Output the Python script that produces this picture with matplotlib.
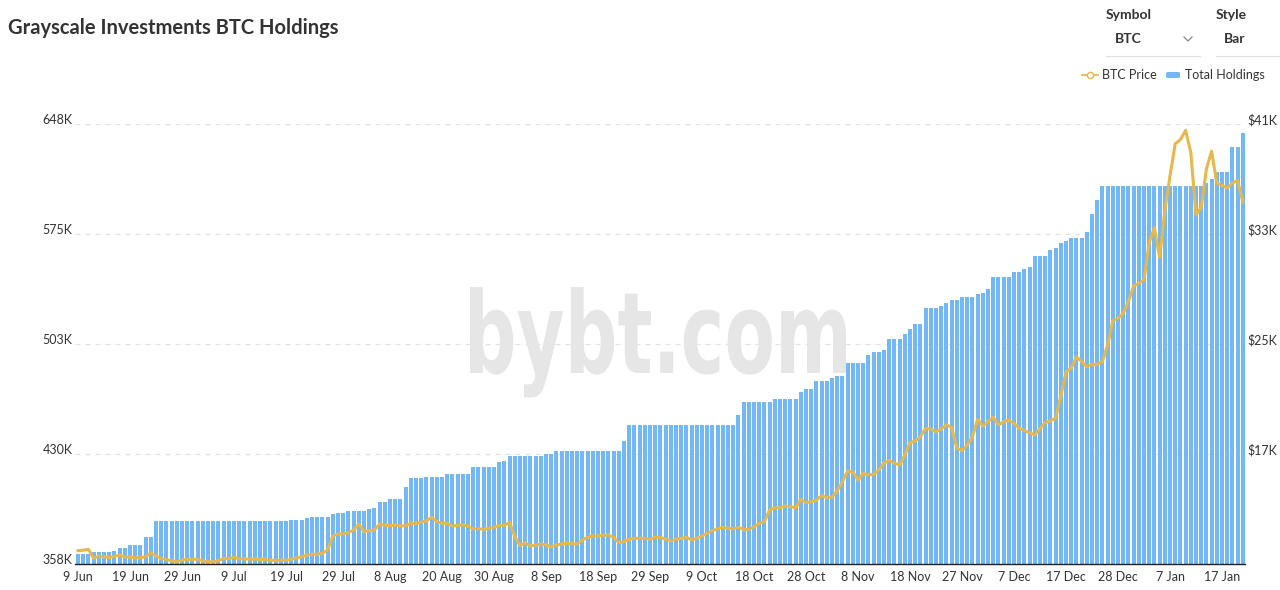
import matplotlib
matplotlib.use("Agg")
import matplotlib.pyplot as plt
from matplotlib.textpath import TextPath
from matplotlib.patches import PathPatch, FancyBboxPatch
from matplotlib.font_manager import FontProperties
from matplotlib.transforms import Affine2D, IdentityTransform
from matplotlib.lines import Line2D

# ---------------- data ----------------
tick_labels = ['9 Jun', '19 Jun', '29 Jun', '9 Jul', '19 Jul', '29 Jul', '8 Aug',
               '20 Aug', '30 Aug', '8 Sep', '18 Sep', '29 Sep', '9 Oct', '18 Oct',
               '28 Oct', '8 Nov', '18 Nov', '27 Nov', '7 Dec', '17 Dec', '28 Dec',
               '7 Jan', '17 Jan']

holdings = [
    364600, 364600, 364600, 365700, 365700, 365700, 365700, 366800, 368300, 368300,
    370500, 370500, 370500, 375600, 375600, 386500, 386500, 386500, 386500, 386500,
    386500, 386500, 386500, 386500, 386500, 386500, 386500, 386500, 386500, 386500,
    386500, 386500, 386500, 386500, 386500, 386500, 386500, 386500, 386500, 386500,
    386500, 386800, 387200, 387200, 388100, 389200, 389200, 389200, 389200, 390800,
    391800, 391800, 393100, 393100, 393100, 393100, 394000, 395100, 399100, 399100,
    400800, 400800, 400800, 408600, 414900, 414900, 414900, 415300, 415300, 415300,
    415300, 417100, 417100, 417100, 417100, 417100, 421900, 421900, 421900, 421900,
    421900, 425200, 426100, 429400, 429400, 429400, 429400, 429400, 429400, 429400,
    430700, 430700, 432300, 432300, 432300, 432300, 432300, 432300, 432300, 432300,
    432300, 432300, 432300, 432300, 432300, 439300, 449300, 449300, 449300, 449300,
    449300, 449300, 449300, 449300, 449300, 449300, 449300, 449300, 449300, 449300,
    449300, 449300, 449300, 449300, 449300, 449300, 449300, 456200, 464600, 464600,
    464600, 464600, 464600, 464600, 467000, 467000, 467000, 467000, 467000, 471600,
    473500, 473500, 478800, 478800, 478800, 480800, 482100, 482100, 490500, 490500,
    490500, 490500, 495700, 497900, 497900, 499000, 506300, 506300, 506300, 509400,
    512900, 516000, 516000, 526500, 526500, 526500, 528000, 529800, 532000, 532000,
    534200, 534200, 534200, 535800, 536400, 539300, 547000, 547000, 547000, 547000,
    550700, 550700, 552200, 553600, 561000, 561000, 561000, 565200, 566100, 569400,
    570900, 572700, 572700, 572700, 576600, 588900, 597700, 607100, 607100, 607100,
    607100, 607100, 607100, 607100, 607100, 607100, 607100, 607100, 607100, 607100,
    607100, 607100, 607100, 607100, 607100, 607100, 607100, 608900, 611700, 616600,
    616600, 616600, 633000, 633000, 641900,
]

btc_price = [
    9970, 10000, 10070, 9410, 9580, 9530, 9460, 9580, 9630, 9530,
    9490, 9460, 9460, 9530, 9820, 9580, 9390, 9340, 9220, 9170,
    9290, 9340, 9340, 9360, 9220, 9170, 9170, 9240, 9410, 9390,
    9490, 9390, 9360, 9360, 9360, 9340, 9340, 9290, 9240, 9290,
    9290, 9340, 9440, 9530, 9650, 9710, 9710, 9780, 10020, 11040,
    11180, 11180, 11280, 11470, 11910, 11350, 11420, 11470, 11910, 11840,
    11790, 11840, 11760, 11790, 11960, 11960, 12030, 12150, 12400, 12080,
    11960, 11960, 11760, 11810, 11840, 11760, 11570, 11570, 11520, 11600,
    11670, 11810, 11810, 12030, 10990, 10330, 10550, 10310, 10380, 10450,
    10380, 10260, 10380, 10450, 10510, 10480, 10450, 10750, 10940, 11040,
    11040, 11090, 11110, 10940, 10550, 10620, 10800, 10870, 10870, 10870,
    10800, 10940, 10930, 10800, 10690, 10800, 10870, 10940, 10750, 10870,
    11040, 11230, 11420, 11570, 11670, 11600, 11570, 11670, 11520, 11520,
    11710, 11960, 12080, 12930, 13090, 13090, 13220, 13170, 13090, 13710,
    13460, 13530, 13650, 13980, 13840, 13870, 14320, 14990, 15750, 15710,
    15090, 15600, 15470, 15520, 15840, 16360, 16540, 16320, 16200, 16930,
    17820, 17950, 18260, 18870, 18820, 18620, 18820, 19130, 18930, 17440,
    17240, 17650, 18260, 19520, 19040, 19350, 19670, 19110, 19350, 19470,
    19230, 18870, 18690, 18550, 18380, 18870, 19280, 19420, 19600, 21220,
    22960, 23230, 24080, 23710, 23350, 23520, 23520, 23710, 24930, 26700,
    26870, 27230, 28080, 29220, 29420, 29660, 32380, 33470, 31310, 34670,
    37220, 39560, 39860, 40540, 38930, 34380, 34930, 37730, 39020, 36690,
    36530, 36350, 36710, 36890, 35330,
]

left_ticks = [358000, 430500, 503000, 575500, 648000]
left_tick_labels = ['358K', '430K', '503K', '575K', '648K']
right_ticks = [9000, 17000, 25000, 33000, 41000]
right_tick_labels = ['', '$17K', '$25K', '$33K', '$41K']

# ---------------- style ----------------
W, H = 1280, 590
BAR_C = '#73b7f4'
LINE_C = '#e7b84c'
TXT_C = '#333333'
FONT = 'Lato'


def fx(x):
    return x / W


def fy(y):
    return 1 - y / H


fig = plt.figure(figsize=(W / 100, H / 100), dpi=100)
fig.patch.set_facecolor('white')

ax_l, ax_r, ax_t, ax_b = 75.4, 1245.4, 124, 564
ax = fig.add_axes([fx(ax_l), fy(ax_b), (ax_r - ax_l) / W, (ax_b - ax_t) / H])
ax.patch.set_alpha(0)

x = list(range(len(holdings)))
ax.bar(x, [h - left_ticks[0] for h in holdings], bottom=left_ticks[0],
       width=0.78, color=BAR_C, zorder=2, linewidth=0)
ax.set_xlim(-0.5, len(holdings) - 0.5)
ax.set_ylim(left_ticks[0], left_ticks[-1])

ax.set_yticks(left_ticks)
ax.set_yticklabels(left_tick_labels)
ax.set_xticks(list(range(0, len(holdings), 10))[:len(tick_labels)])
ax.set_xticklabels(tick_labels)
ax.tick_params(axis='y', length=0, pad=2, labelsize=9, labelcolor=TXT_C)
ax.tick_params(axis='x', length=0, pad=5, labelsize=9, labelcolor=TXT_C)
for lbl in ax.get_yticklabels():
    lbl.set_verticalalignment('baseline')
    lbl.set_fontfamily(FONT)
for lbl in ax.get_xticklabels():
    lbl.set_fontfamily(FONT)

for t in left_ticks[1:]:
    ax.axhline(t, color='#e3e3e3', lw=0.9, ls=(0, (4, 4)), zorder=0.5)
for s in ['top', 'right', 'left']:
    ax.spines[s].set_visible(False)
ax.spines['bottom'].set_color('#222222')
ax.spines['bottom'].set_linewidth(1.0)
ax.spines['bottom'].set_zorder(3)

# watermark (behind bars)
tp = TextPath((0, 0), 'bybt.com', size=100,
              prop=FontProperties(family='DejaVu Sans', weight='bold'))
bb = tp.get_extents()
wm_left, wm_right, wm_top, wm_base = 470, 846, 287, 373
sx = (wm_right - wm_left) / bb.width
sy = (wm_base - wm_top) / bb.y1
tr = Affine2D().translate(-bb.x0, 0).scale(sx, sy).translate(wm_left, H - wm_base)
wm = PathPatch(tr.transform_path(tp), facecolor='#e6e6e6', edgecolor='none',
               transform=IdentityTransform(), zorder=1)
ax.add_patch(wm)

# price line
ax2 = ax.twinx()
ax2.plot(x, btc_price, color=LINE_C, lw=2.2, zorder=4, solid_joinstyle='round')
ax2.set_ylim(right_ticks[0], right_ticks[-1])
ax2.set_yticks(right_ticks)
ax2.set_yticklabels(right_tick_labels)
ax2.tick_params(axis='y', length=0, pad=1.5, labelsize=9, labelcolor=TXT_C)
for lbl in ax2.get_yticklabels():
    lbl.set_verticalalignment('baseline')
    lbl.set_fontfamily(FONT)
for s in ['top', 'right', 'left', 'bottom']:
    ax2.spines[s].set_visible(False)

# title
fig.text(fx(8), fy(28), 'Grayscale Investments BTC Holdings', fontsize=14.5,
         fontweight='bold', family=FONT, color=TXT_C, va='center', ha='left')

# top-right controls
fig.text(fx(1106), fy(15), 'Symbol', fontsize=10, fontweight='bold', family=FONT,
         color=TXT_C, va='center', ha='left')
fig.text(fx(1115), fy(39), 'BTC', fontsize=10, fontweight='bold', family=FONT,
         color=TXT_C, va='center', ha='left')
fig.text(fx(1216), fy(15), 'Style', fontsize=10, fontweight='bold', family=FONT,
         color=TXT_C, va='center', ha='left')
fig.text(fx(1224), fy(39), 'Bar', fontsize=10, fontweight='bold', family=FONT,
         color=TXT_C, va='center', ha='left')
fig.add_artist(Line2D([fx(1184), fx(1188), fx(1192)], [fy(37), fy(41), fy(37)],
                      color='#888888', lw=0.9, transform=fig.transFigure))
fig.add_artist(Line2D([fx(1106), fx(1200)], [fy(56), fy(56)], color='#e0e0e0',
                      lw=0.9, transform=fig.transFigure))
fig.add_artist(Line2D([fx(1216), fx(1280)], [fy(56), fy(56)], color='#e0e0e0',
                      lw=0.9, transform=fig.transFigure))

# legend
fig.add_artist(Line2D([fx(1082), fx(1098)], [fy(75), fy(75)], color=LINE_C, lw=1.3,
                      transform=fig.transFigure))
fig.add_artist(Line2D([fx(1090)], [fy(75)], color=LINE_C, marker='o', markersize=4.5,
                      markerfacecolor='white', markeredgewidth=1.0, lw=0,
                      transform=fig.transFigure))
fig.text(fx(1102), fy(75), 'BTC Price', fontsize=9, family=FONT, color=TXT_C,
         va='center', ha='left')
fig.add_artist(FancyBboxPatch((fx(1166), fy(78)), fx(14), 6 / H,
                              boxstyle='round,pad=0,rounding_size=0.002',
                              facecolor=BAR_C, edgecolor='none',
                              transform=fig.transFigure))
fig.text(fx(1185), fy(75), 'Total Holdings', fontsize=9, family=FONT, color=TXT_C,
         va='center', ha='left')

fig.savefig('out.png', dpi=100, facecolor='white')
